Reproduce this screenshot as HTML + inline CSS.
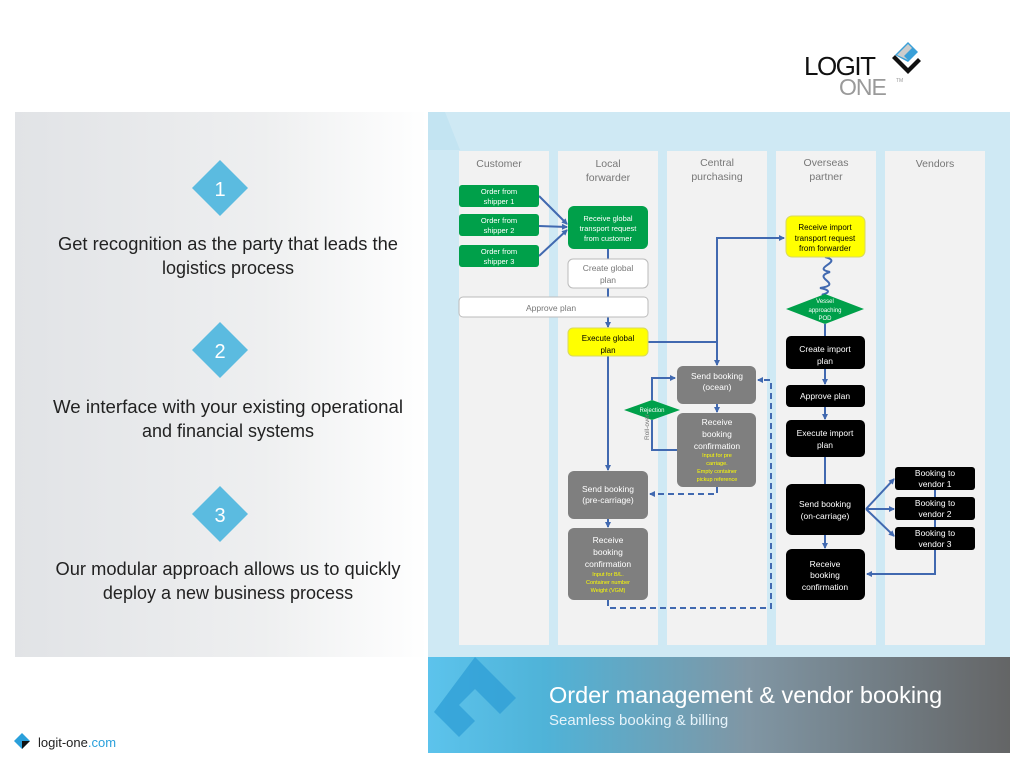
<!DOCTYPE html>
<html><head><meta charset="utf-8"><style>
body{margin:0;width:1024px;height:768px;overflow:hidden;background:#fff;font-family:"Liberation Sans",sans-serif;}
</style></head><body>
<svg width="1024" height="768" viewBox="0 0 1024 768" xmlns="http://www.w3.org/2000/svg" style="position:absolute;left:0;top:0">
<defs>
<linearGradient id="lg" x1="0" x2="1" y1="0" y2="0"><stop offset="0" stop-color="#e1e3e6"/><stop offset="0.6" stop-color="#eeeff0"/><stop offset="1" stop-color="#ffffff"/></linearGradient>
<linearGradient id="bg" x1="0" x2="1" y1="0" y2="0"><stop offset="0" stop-color="#5cc3ec"/><stop offset="0.2" stop-color="#4fb3d8"/><stop offset="0.55" stop-color="#8096a4"/><stop offset="1" stop-color="#646566"/></linearGradient>
<marker id="a" markerWidth="6" markerHeight="6" refX="5" refY="3" orient="auto" markerUnits="userSpaceOnUse"><path d="M0,0L6,3L0,6z" fill="#4169b0"/></marker>
</defs>
<!-- logo -->
<text x="804" y="75" font-size="26" fill="#111" font-family="Liberation Sans" letter-spacing="-1.5">LOGIT</text>
<text x="839" y="95" font-size="23" fill="#9a9a9a" letter-spacing="-1">ONE</text>
<text x="896" y="82" font-size="5" fill="#999">TM</text>
<path d="M895,55 L908,42 L918,52 L908,62 Z" fill="#3aa0d8"/>
<path d="M895,55 L908,68 L918,58 L921,61 L908,74 L892,58 Z" fill="#111"/>
<path d="M897,55 L908,44 L912,48 L904,56 L908,60 Z" fill="#ccc"/>
<!-- left panel -->
<rect x="15" y="112" width="413" height="545" fill="url(#lg)"/>
<g fill="#5bbbe0"><path d="M220,160L248,188L220,216L192,188Z"/><path d="M220,322L248,350L220,378L192,350Z"/><path d="M220,486L248,514L220,542L192,514Z"/></g>
<g fill="#fff" font-size="20" text-anchor="middle"><text x="220" y="196">1</text><text x="220" y="358">2</text><text x="220" y="522">3</text></g>
<g fill="#222" font-size="18" text-anchor="middle">
<text x="228" y="250" textLength="340" lengthAdjust="spacingAndGlyphs">Get recognition as the party that leads the</text><text x="228" y="274">logistics process</text>
<text x="228" y="413" textLength="350" lengthAdjust="spacingAndGlyphs">We interface with your existing operational</text><text x="228" y="437">and financial systems</text>
<text x="228" y="575" textLength="345" lengthAdjust="spacingAndGlyphs">Our modular approach allows us to quickly</text><text x="228" y="599">deploy a new business process</text>
</g>
<!-- right panel -->
<rect x="428" y="112" width="582" height="545" fill="#cfe9f4"/>
<path d="M428,112 L445,112 L460,150 L428,150Z" fill="#c3e4f2"/>
<g fill="#f2f2f2"><rect x="459" y="151" width="90" height="494"/><rect x="558" y="151" width="100" height="494"/><rect x="667" y="151" width="100" height="494"/><rect x="776" y="151" width="100" height="494"/><rect x="885" y="151" width="100" height="494"/></g>
<g fill="#777" font-size="10.5" text-anchor="middle">
<text x="499" y="167">Customer</text><text x="608" y="167">Local</text><text x="608" y="181">forwarder</text>
<text x="717" y="166">Central</text><text x="717" y="180">purchasing</text>
<text x="826" y="166">Overseas</text><text x="826" y="180">partner</text><text x="935" y="167">Vendors</text>
</g>
<!-- connectors -->
<g stroke="#4169b0" stroke-width="2" fill="none">
<path d="M539,196L567,224" marker-end="url(#a)"/><path d="M539,226L567,227" marker-end="url(#a)"/><path d="M539,256L567,230" marker-end="url(#a)"/>
<path d="M608,249V259M608,288V297M608,317V327" marker-end="url(#a)"/>
<path d="M648,342H717V365" marker-end="url(#a)"/>
<path d="M717,342V238H784" marker-end="url(#a)"/>
<path d="M717,404V412" marker-end="url(#a)"/>
<path d="M608,356V470" marker-end="url(#a)"/>
<path d="M652,400V378H675" marker-end="url(#a)"/>
<path d="M652,420V450H677"/>
<path d="M608,519V527" marker-end="url(#a)"/>
<path d="M825,257 C845,262 810,268 830,272 C810,278 845,284 820,288 C840,292 815,296 825,294" />
<path d="M825,324V336"/>
<path d="M825,369V384" marker-end="url(#a)"/><path d="M825,407V419" marker-end="url(#a)"/><path d="M825,457V484"/>
<path d="M825,535V548" marker-end="url(#a)"/>
<path d="M866,509L894,479" marker-end="url(#a)"/><path d="M866,509L894,509" marker-end="url(#a)"/><path d="M866,509L894,536" marker-end="url(#a)"/>
<path d="M935,490V574H867" marker-end="url(#a)"/>
</g>
<g stroke="#4169b0" stroke-width="2" fill="none" stroke-dasharray="6,4">
<path d="M717,487V494H650" marker-end="url(#a)"/>
<path d="M608,600V608H771V380H758" marker-end="url(#a)"/>
</g>
<!-- nodes -->
<g fill="#00a04a"><rect x="459" y="185" width="80" height="22" rx="3"/><rect x="459" y="214" width="80" height="22" rx="3"/><rect x="459" y="245" width="80" height="22" rx="3"/><rect x="568" y="206" width="80" height="43" rx="6"/>
<path d="M624,410L652,400L680,410L652,420Z"/><path d="M786,309L825,294L864,309L825,324Z"/></g>
<rect x="568" y="259" width="80" height="29" rx="5" fill="#fff" stroke="#bbb"/>
<rect x="459" y="297" width="189" height="20" rx="4" fill="#fff" stroke="#bbb"/>
<rect x="568" y="328" width="80" height="28" rx="5" fill="#ffff00" stroke="#d8d860"/>
<rect x="786" y="216" width="79" height="41" rx="6" fill="#ffff00" stroke="#d8d860"/>
<g fill="#7f7f7f"><rect x="677" y="366" width="79" height="38" rx="6"/><rect x="677" y="413" width="79" height="74" rx="6"/><rect x="568" y="471" width="80" height="48" rx="6"/><rect x="568" y="528" width="80" height="72" rx="6"/></g>
<g fill="#000"><rect x="786" y="336" width="79" height="33" rx="5"/><rect x="786" y="385" width="79" height="22" rx="4"/><rect x="786" y="420" width="79" height="37" rx="5"/><rect x="786" y="484" width="79" height="51" rx="6"/><rect x="786" y="549" width="79" height="51" rx="6"/>
<rect x="895" y="467" width="80" height="23" rx="3"/><rect x="895" y="497" width="80" height="23" rx="3"/><rect x="895" y="527" width="80" height="23" rx="3"/></g>
<g fill="#fff" font-size="7.5" text-anchor="middle">
<text x="499" y="194">Order from</text><text x="499" y="204">shipper 1</text>
<text x="499" y="223">Order from</text><text x="499" y="233">shipper 2</text>
<text x="499" y="254">Order from</text><text x="499" y="264">shipper 3</text>
<text x="608" y="221">Receive global</text><text x="608" y="231">transport request</text><text x="608" y="241">from customer</text>
<text x="652" y="412" font-size="6">Rejection</text>
<text x="825" y="303" font-size="6">Vessel</text><text x="825" y="312" font-size="6">approaching</text><text x="825" y="320" font-size="6">POD</text>
</g>
<g fill="#fff" font-size="8.5" text-anchor="middle">
<text x="717" y="379">Send booking</text><text x="717" y="390">(ocean)</text>
<text x="717" y="425">Receive</text><text x="717" y="437">booking</text><text x="717" y="449">confirmation</text>
<text x="608" y="492">Send booking</text><text x="608" y="503">(pre-carriage)</text>
<text x="608" y="543">Receive</text><text x="608" y="555">booking</text><text x="608" y="567">confirmation</text>
<text x="825" y="352">Create import</text><text x="825" y="364">plan</text>
<text x="825" y="399">Approve plan</text>
<text x="825" y="436">Execute import</text><text x="825" y="448">plan</text>
<text x="825" y="507">Send booking</text><text x="825" y="519">(on-carriage)</text>
<text x="825" y="567">Receive</text><text x="825" y="578">booking</text><text x="825" y="590">confirmation</text>
<text x="935" y="476">Booking to</text><text x="935" y="487">vendor 1</text>
<text x="935" y="506">Booking to</text><text x="935" y="517">vendor 2</text>
<text x="935" y="536">Booking to</text><text x="935" y="547">vendor 3</text>
</g>
<g fill="#000" font-size="8" text-anchor="middle">
<text x="608" y="341">Execute global</text><text x="608" y="353">plan</text>
<text x="825" y="230">Receive import</text><text x="825" y="241">transport request</text><text x="825" y="251">from forwarder</text>
</g>
<g fill="#777" font-size="8.5" text-anchor="middle"><text x="608" y="271">Create global</text><text x="608" y="283">plan</text><text x="551" y="311">Approve plan</text></g>
<text x="649" y="440" font-size="6.5" fill="#777" transform="rotate(-90 649 440)">Roll-over</text>
<g fill="#ffff00" font-size="5.5" text-anchor="middle">
<text x="717" y="457">Input for pre</text><text x="717" y="465">carriage.</text><text x="717" y="473">Empty container</text><text x="717" y="481">pickup reference</text>
<text x="608" y="576">Input for B/L.</text><text x="608" y="584">Container number</text><text x="608" y="592">Weight (VGM)</text>
</g>
<!-- banner -->
<rect x="428" y="657" width="582" height="96" fill="url(#bg)"/>
<path d="M475,657 L516,698 L500,714 L475,689 L459,705 L475,721 L459,737 L434,712 Z" fill="#2e9ed6" opacity="0.75"/>
<text x="549" y="703" font-size="23.5" fill="#fff">Order management &amp; vendor booking</text>
<text x="549" y="725" font-size="15" fill="#e6f3fa">Seamless booking &amp; billing</text>
<!-- footer logo -->
<path d="M22,733L30,741L22,749L14,741Z" fill="#2aa0db"/><path d="M22,741L30,741L22,749Z" fill="#111"/>
<text x="38" y="747" font-size="13" fill="#222">logit-one<tspan fill="#2aa0db">.com</tspan></text>
</svg>
</body></html>
